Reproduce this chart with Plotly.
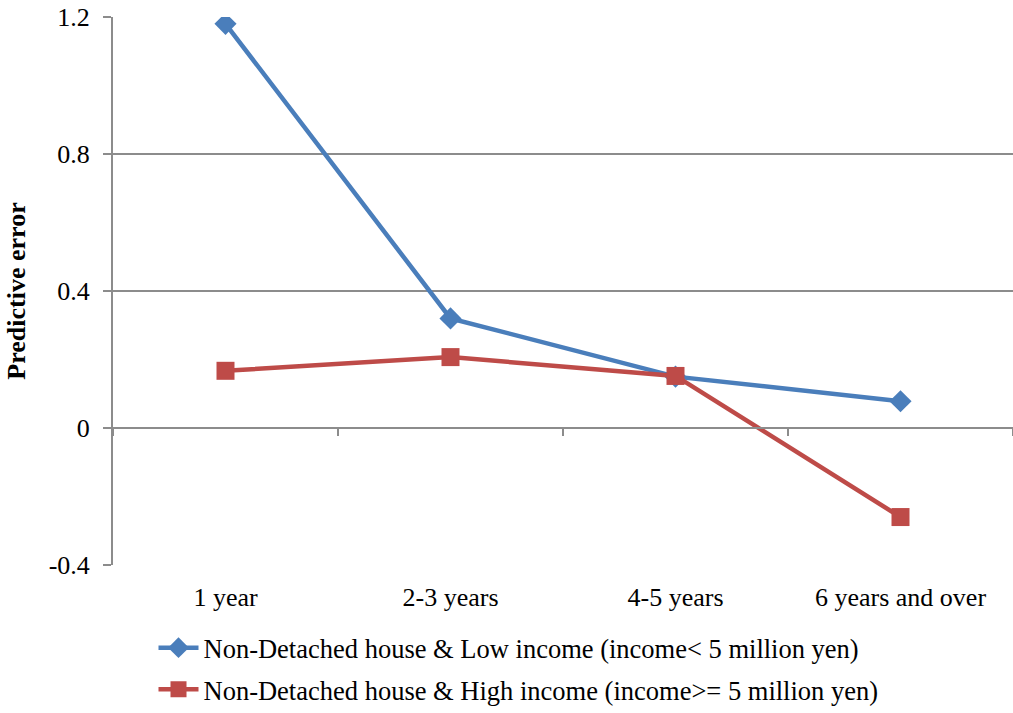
import plotly.graph_objects as go

categories = ["1 year", "2-3 years", "4-5 years", "6 years and over"]
low_income = [1.18, 0.32, 0.15, 0.078]
high_income = [0.167, 0.207, 0.152, -0.26]
series_names = [
    "Non-Detached house & Low income (income< 5 million yen)",
    "Non-Detached house & High income (income>= 5 million yen)",
]
y_ticks = [-0.4, 0, 0.4, 0.8, 1.2]
y_tick_text = ["-0.4", "0", "0.4", "0.8", "1.2"]

FONT = "Liberation Serif, Times New Roman, serif"
GRID = "#8c8c8c"

fig = go.Figure()
fig.add_trace(go.Scatter(
    x=categories, y=low_income, name=series_names[0], mode="lines+markers",
    legendgroup="low",
    line=dict(color="#4a7ebb", width=4.5),
    marker=dict(symbol="diamond", size=17, color="#4a7ebb"),
))
fig.add_trace(go.Scatter(
    x=categories, y=high_income, name=series_names[1], mode="lines+markers",
    legendgroup="high",
    line=dict(color="#be4b48", width=4.5),
    marker=dict(symbol="square", size=18, color="#be4b48"),
))
# invisible trace to carry the zero-line axis with boundary ticks
fig.add_trace(go.Scatter(
    x=categories, y=[None] * len(categories), xaxis="x2", showlegend=False,
    hoverinfo="skip", mode="lines",
))

fig.update_layout(
    width=1013, height=713,
    margin=dict(l=113, r=0, t=17, b=148),
    paper_bgcolor="white", plot_bgcolor="white",
    font=dict(family=FONT, size=26, color="black"),
    showlegend=True,
    legend=dict(
        x=0.045, y=-0.108, xanchor="left", yanchor="top",
        orientation="v", font=dict(family=FONT, size=26.5),
        tracegroupgap=4, itemwidth=40,
    ),
    xaxis=dict(
        type="category", categoryarray=categories, range=[-0.5, 3.5],
        showgrid=False, zeroline=False, showline=False, ticks="",
        ticklabelstandoff=14,
        tickfont=dict(family=FONT, size=26),
    ),
    xaxis2=dict(
        type="category", categoryarray=categories, range=[-0.5, 3.5],
        overlaying="x", anchor="free", position=0.25, side="bottom",
        showgrid=False, zeroline=False, showline=True, linecolor=GRID, linewidth=2,
        ticks="outside", tickson="boundaries", ticklen=7, tickcolor=GRID, tickwidth=2,
        showticklabels=False,
    ),
    yaxis=dict(
        range=[-0.4, 1.2], tickvals=y_ticks, ticktext=y_tick_text,
        showgrid=True, gridcolor=GRID, gridwidth=2,
        zeroline=False, showline=True, linecolor=GRID, linewidth=2,
        ticks="outside", ticklen=8, tickcolor=GRID, tickwidth=2,
        ticklabelstandoff=8,
        tickfont=dict(family=FONT, size=26),
        title=dict(text="<b>Predictive error</b>", font=dict(family=FONT, size=26), standoff=16),
    ),
)

fig.write_html("out.html")
